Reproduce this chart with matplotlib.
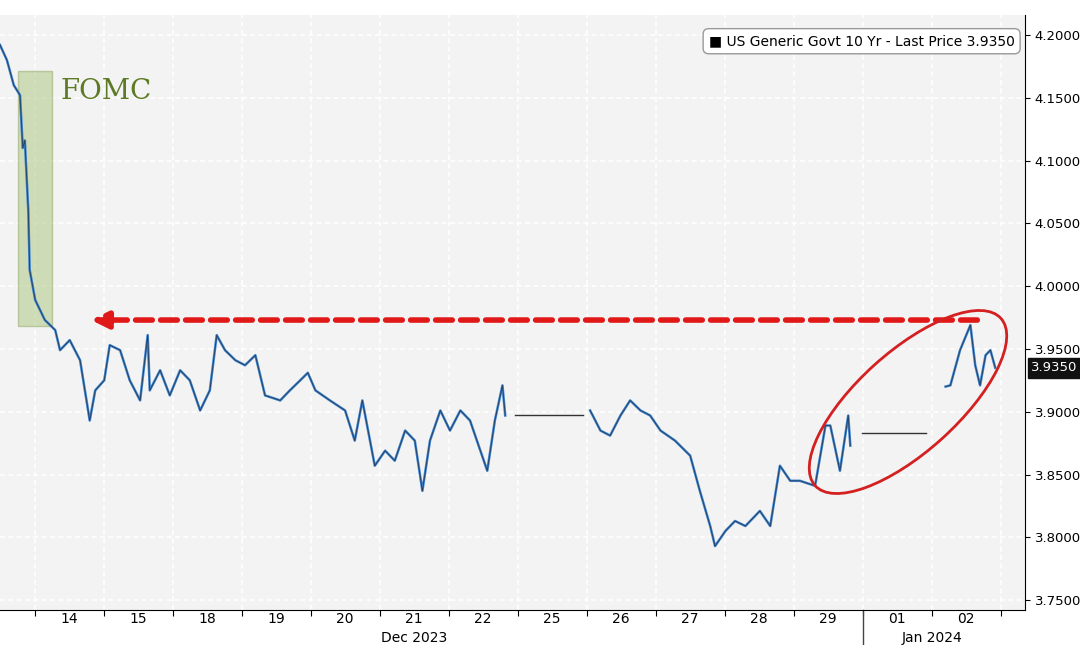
import matplotlib
matplotlib.use("Agg")
import matplotlib.pyplot as plt
from matplotlib.patches import Rectangle, Ellipse

# session time in day units (day "14" centred at 1) and prices
t1 = [0,0.1,0.2,0.29,0.33,0.36,0.41,0.43,0.51,0.65,0.80,0.87,1.01,1.16,1.30,1.38,1.51,1.59,1.74,1.88,2.03,2.14,2.17,2.32,2.46,
      2.61,2.75,2.90,3.04,3.14,3.26,3.41,3.55,3.70,3.84,4.06,4.20,4.35,4.46,4.57,4.78,5.00,5.14,5.25,5.43,5.58,5.72,5.87,
      6.01,6.12,6.23,6.38,6.52,6.67,6.81,6.96,7.06,7.17,7.28,7.32]
p1 = [4.192,4.180,4.160,4.152,4.110,4.116,4.060,4.013,3.989,3.973,3.965,3.949,3.957,3.941,3.893,3.917,3.925,3.953,3.949,3.925,3.909,3.961,3.917,3.933,3.913,
      3.933,3.925,3.901,3.917,3.961,3.949,3.941,3.937,3.945,3.913,3.909,3.917,3.925,3.931,3.917,3.909,3.901,3.877,3.909,3.857,
      3.869,3.861,3.885,3.877,3.837,3.877,3.901,3.885,3.901,3.893,3.869,3.853,3.893,3.921,3.897]
t_gap1 = [7.46, 8.45]
p_gap1 = [3.897, 3.897]
t2 = [8.55,8.70,8.84,8.99,9.13,9.28,9.42,9.57,9.78,10.0,10.14,10.29,10.36,10.51,10.65,10.80,11.01,11.16,11.30,11.45,
      11.59,11.81,11.96,12.03,12.17,12.29,12.32]
p2 = [3.901,3.885,3.881,3.897,3.909,3.901,3.897,3.885,3.877,3.865,3.837,3.809,3.793,3.805,3.813,3.809,3.821,3.809,3.857,3.845,
      3.845,3.841,3.889,3.889,3.853,3.897,3.873]
t_gap2 = [12.49, 13.41]
p_gap2 = [3.883, 3.883]
t3 = [13.70,13.77,13.91,14.06,14.13,14.20,14.28,14.35,14.42]
p3 = [3.920,3.921,3.949,3.969,3.937,3.921,3.945,3.949,3.935]

tick_labels = ["14","15","18","19","20","21","22","25","26","27","28","29","01","02"]
yticks = [3.75,3.80,3.85,3.90,3.95,4.00,4.05,4.10,4.15,4.20]

fig = plt.figure(figsize=(10.8,6.45), dpi=100)
fig.patch.set_facecolor("white")
ax = fig.add_axes([0.0, 0.054, 0.949, 0.923])
ax.set_facecolor("#f3f3f3")
ax.set_xlim(0, 14.85)
ax.set_ylim(3.742, 4.216)

for t, p in [(t1,p1),(t2,p2),(t3,p3)]:
    ax.plot(t, p, color="#3f82cc", lw=1.8, zorder=3)
    ax.plot(t, p, color="#111111", lw=0.6, zorder=4, alpha=0.6)
for t, p in [(t_gap1,p_gap1),(t_gap2,p_gap2)]:
    ax.plot(t, p, color="#333333", lw=1.0, zorder=3)

ax.set_xticks([i+0.5 for i in range(0,15)], minor=False)
ax.set_xticklabels([])
ax.set_xticks(range(1,15), minor=True)
ax.set_xticklabels(tick_labels, minor=True, fontsize=10)
ax.tick_params(axis="x", which="minor", length=0, pad=1)
ax.tick_params(axis="x", which="major", length=4)
ax.grid(True, axis="x", which="major", color="white", lw=1.2, ls=(0,(3,2)))
ax.grid(True, axis="y", color="white", lw=1.2, ls=(0,(3,2)))
ax.yaxis.tick_right()
ax.set_yticks(yticks)
ax.set_yticklabels([f"{v:.4f}" for v in yticks], fontsize=9.5)
for s in ["top","left"]:
    ax.spines[s].set_visible(False)
ax.axvline(12.5, ymin=-0.06, ymax=0, color="#444", lw=1, clip_on=False)
ax.text(6.0, -0.035, "Dec 2023", transform=ax.get_xaxis_transform(), ha="center", va="top", fontsize=10)
ax.text(13.5, -0.035, "Jan 2024", transform=ax.get_xaxis_transform(), ha="center", va="top", fontsize=10)

ax.add_patch(Rectangle((0.26, 3.968), 0.50, 4.171-3.968, facecolor="#b5cc8e", alpha=0.6, edgecolor="#9ab070", zorder=2))
ax.text(0.87, 4.155, "FOMC", family="DejaVu Serif", fontsize=20, color="#5e7a25", va="center")

ax.annotate("", xy=(1.28, 3.973), xytext=(14.2, 3.973),
            arrowprops=dict(arrowstyle="-|>,head_length=1.0,head_width=0.5", color="#e01818", lw=4, ls=(0,(3,1.5))), zorder=6)
fig.patches.append(Ellipse((908, 645-402), 250, 100, angle=42, fill=False, edgecolor="#d42020", lw=2,
                           transform=None, zorder=6))

ax.text(14.7, 4.195, "\u25a0 US Generic Govt 10 Yr - Last Price 3.9350", ha="right", va="center", fontsize=10,
        bbox=dict(boxstyle="round,pad=0.4", fc="white", ec="#999"), zorder=7)
ax.text(1.006, 3.935, "3.9350", transform=ax.get_yaxis_transform(), ha="left", va="center", fontsize=9.5,
        color="white", bbox=dict(boxstyle="square,pad=0.25", fc="#111", ec="#111"), zorder=7)

fig.savefig("out.png", dpi=100)
